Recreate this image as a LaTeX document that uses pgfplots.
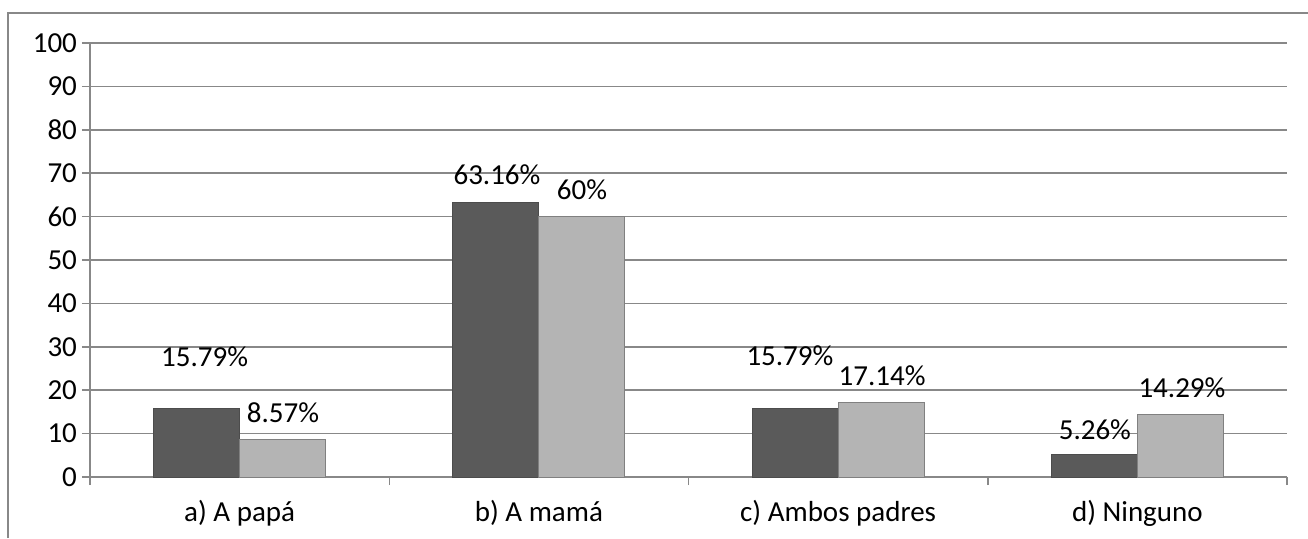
\documentclass[border=0pt]{standalone}
\usepackage{pgfplots}
\pgfplotsset{compat=1.18}
\usepackage{fontspec}
\setmainfont{Carlito}
\definecolor{darkbar}{HTML}{5A5A5A}
\definecolor{lightbar}{HTML}{B4B4B4}
\definecolor{gridc}{HTML}{888888}
\begin{document}
\begin{tikzpicture}[x=1pt,y=1pt]
\useasboundingbox (0,0) rectangle (654,269);
\draw[gridc, line width=0.6pt] (4,0) -- (4,262.5) -- (654,262.5);
\begin{axis}[
  at={(45pt,30.5pt)}, anchor=south west,
  scale only axis, width=598.5pt, height=217pt,
  xmin=-0.5, xmax=3.5, ymin=0, ymax=100,
  enlargelimits=false,
  ytick={0,10,...,100},
  xtick={0,1,2,3},
  xticklabels={a) A papá, b) A mamá, c) Ambos padres, d) Ninguno},
  minor xtick={-0.5,0.5,1.5,2.5,3.5},
  major x tick style={draw=none},
  tick align=outside,
  minor tick length=4pt, major tick length=4pt,
  axis x line*=bottom, axis y line*=left,
  axis line style={gridc, line width=0.75pt, -},
  every tick/.style={gridc, line width=0.75pt},
  ymajorgrids, grid style={gridc, line width=0.75pt},
  ybar, bar width=43pt,
  font=\fontsize{14.5}{17}\selectfont,
  ticklabel style={font=\fontsize{14.5}{17}\selectfont},
  /pgf/number format/assume math mode=true,
  xticklabel style={yshift=-4pt},
  yticklabel style={xshift=1pt},
  clip=false,
]
\addplot[fill=darkbar, draw=black!70, line width=0.5pt, bar shift=-21.5pt]
  coordinates {(0,15.79) (1,63.16) (2,15.79) (3,5.26)};
\addplot[fill=lightbar, draw=black!50, line width=0.5pt, bar shift=21.5pt]
  coordinates {(0,8.57) (1,60) (2,17.14) (3,14.29)};
\node at (axis cs:-0.117,27.7) {15.79\%};
\node at (axis cs:0.145,14.7) {8.57\%};
\node at (axis cs:0.86,69.6) {63.16\%};
\node at (axis cs:1.144,66.1) {60\%};
\node at (axis cs:1.839,27.9) {15.79\%};
\node at (axis cs:2.147,23.3) {17.14\%};
\node at (axis cs:2.858,10.8) {5.26\%};
\node at (axis cs:3.149,20.5) {14.29\%};
\end{axis}
\end{tikzpicture}
\end{document}
